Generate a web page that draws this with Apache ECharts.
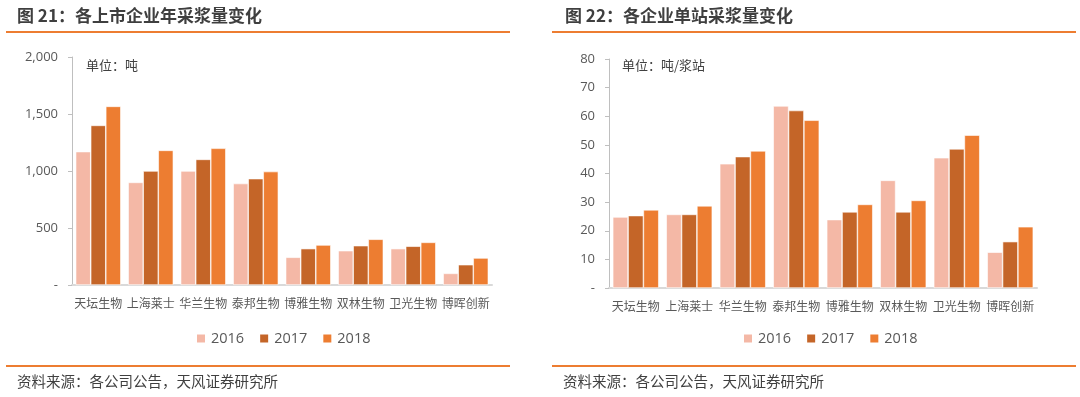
<!DOCTYPE html>
<html><head><meta charset="utf-8">
<script src="https://cdn.jsdelivr.net/npm/echarts@6/dist/echarts.min.js"></script>
<style>html,body{margin:0;padding:0;background:#fff}#c{width:1080px;height:397px}</style>
</head><body><div id="c"></div>
<script>
const categories = ['天坛生物','上海莱士','华兰生物','泰邦生物','博雅生物','双林生物','卫光生物','博晖创新'];
const years = ['2016','2017','2018'];
// 图21 年采浆量（吨）
const vol2016 = [1170, 900, 1000, 890, 243, 301, 319, 102];
const vol2017 = [1400, 1000, 1102, 933, 319, 345, 340, 178];
const vol2018 = [1567, 1181, 1199, 995, 351, 401, 374, 237];
// 图22 单站采浆量（吨/浆站）
const st2016 = [24.8, 25.7, 43.4, 63.6, 23.9, 37.6, 45.5, 12.5];
const st2017 = [25.3, 25.7, 45.9, 62.0, 26.6, 26.6, 48.6, 16.2];
const st2018 = [27.3, 28.7, 47.9, 58.6, 29.2, 30.6, 53.4, 21.4];
const colors = ['#F4B8A6', '#C46528', '#ED7D31'];

const font = '"Noto Sans CJK SC", "Noto Sans", sans-serif';
const chart = echarts.init(document.getElementById('c'));

function xAx(gi){
  return {type:'category', gridIndex:gi, data:categories,
    axisLine:{lineStyle:{color:'#D9D9D9', width:2}}, axisTick:{show:false},
    axisLabel:{color:'#595959', fontSize:12, fontFamily:font, margin:12, interval:0}};
}
function yAx(gi, max, interval, fmt){
  return {type:'value', gridIndex:gi, min:0, max:max, interval:interval,
    axisLine:{show:true, lineStyle:{color:'#BFBFBF'}},
    axisTick:{show:true, length:4, lineStyle:{color:'#BFBFBF'}},
    splitLine:{show:false},
    axisLabel:{color:'#595959', fontSize:13, fontFamily:'"Open Sans", "Noto Sans", sans-serif', margin:14, formatter:fmt}};
}
function bars(gi, arrs){
  return arrs.map((d,i)=>({name:years[i], type:'bar', xAxisIndex:gi, yAxisIndex:gi, data:d,
    barGap:'0%', barCategoryGap:'14%', itemStyle:{color:colors[i], borderColor:'#fff', borderWidth:0.6},
    emphasis:{disabled:true}}));
}
const legendStyle = {itemWidth:10, itemHeight:10, itemGap:14, icon:'rect',
  textStyle:{color:'#595959', fontSize:14.5, fontFamily:'"Open Sans", "Noto Sans", sans-serif'}, data:years};

chart.setOption({
  animation:false,
  color:colors,
  grid:[
    {left:72, right:588, top:57, bottom:112},
    {left:609, right:43, top:59, bottom:109}
  ],
  xAxis:[xAx(0), xAx(1)],
  yAxis:[
    yAx(0, 2000, 500, v=> v===0 ? '-' : v.toLocaleString('en-US')),
    yAx(1, 80, 10, v=> v===0 ? '-' : String(v))
  ],
  legend:[
    Object.assign({left:190, top:326}, legendStyle),
    Object.assign({left:737, top:326}, legendStyle)
  ],
  series:[...bars(0,[vol2016,vol2017,vol2018]), ...bars(1,[st2016,st2017,st2018])],
  graphic:[
    {type:'text', left:17, top:7, style:{text:'图 21：各上市企业年采浆量变化', fill:'#3F3F3F', font:'bold 17px '+font}},
    {type:'text', left:565, top:7, style:{text:'图 22：各企业单站采浆量变化', fill:'#3F3F3F', font:'bold 17px '+font}},
    {type:'rect', shape:{x:6, y:31, width:504, height:2}, style:{fill:'#ED7D31'}},
    {type:'rect', shape:{x:552, y:31, width:524, height:2}, style:{fill:'#ED7D31'}},
    {type:'rect', shape:{x:6, y:365, width:504, height:2}, style:{fill:'#ED7D31'}},
    {type:'rect', shape:{x:552, y:365, width:524, height:2}, style:{fill:'#ED7D31'}},
    {type:'text', left:17, top:374, style:{text:'资料来源：各公司公告，天风证券研究所', fill:'#404040', font:'14.5px '+font}},
    {type:'text', left:563, top:374, style:{text:'资料来源：各公司公告，天风证券研究所', fill:'#404040', font:'14.5px '+font}},
    {type:'text', left:86, top:59, style:{text:'单位：吨', fill:'#404040', font:'13px '+font}},
    {type:'text', left:622, top:59, style:{text:'单位：吨/浆站', fill:'#404040', font:'13px '+font}}
  ]
});
</script></body></html>
